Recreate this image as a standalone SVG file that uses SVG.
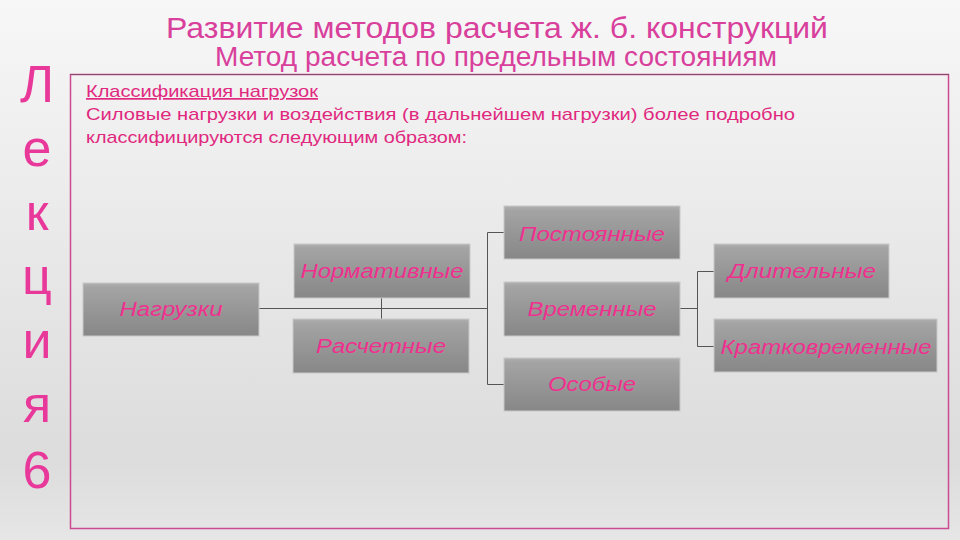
<svg xmlns="http://www.w3.org/2000/svg" width="960" height="540" viewBox="0 0 960 540">
<defs>
<linearGradient id="bg" x1="0" y1="0" x2="0" y2="1">
<stop offset="0" stop-color="#f7f7f7"/>
<stop offset="0.85" stop-color="#dcdcdc"/>
<stop offset="1" stop-color="#e6e6e6"/>
</linearGradient>
<linearGradient id="box" x1="0" y1="0" x2="0" y2="1">
<stop offset="0" stop-color="#b0b0b0"/>
<stop offset="0.08" stop-color="#a4a4a4"/>
<stop offset="1" stop-color="#878787"/>
</linearGradient>
<style>
.node rect{fill:url(#box);stroke:#c8c8c8;stroke-width:1}
.node text{font-family:"Liberation Sans",Arial,sans-serif;font-style:italic;font-size:20px;fill:#f0308e;text-anchor:middle}
.conn path{fill:none;stroke:#555;stroke-width:1}
.side{font-family:"Liberation Sans",Arial,sans-serif;font-size:52px;fill:#e8389a;text-anchor:middle}
.body{font-family:"Liberation Sans",Arial,sans-serif;font-size:17px;fill:#e0287f}
</style>
</defs>
<rect width="960" height="540" fill="url(#bg)"/>
<text x="497" y="38" font-family="'Liberation Sans',Arial,sans-serif" font-size="30" fill="#d8409c" text-anchor="middle" textLength="662" lengthAdjust="spacingAndGlyphs">Развитие методов расчета ж. б. конструкций</text>
<text x="496" y="66" font-family="'Liberation Sans',Arial,sans-serif" font-size="27" fill="#d8409c" text-anchor="middle" textLength="562" lengthAdjust="spacingAndGlyphs">Метод расчета по предельным состояниям</text>
<g id="side-letters">
<text class="side" x="37" y="102">Л</text>
<text class="side" x="37" y="166">е</text>
<text class="side" x="37" y="230">к</text>
<text class="side" x="37" y="294">ц</text>
<text class="side" x="37" y="358">и</text>
<text class="side" x="37" y="422">я</text>
<text class="side" x="37" y="488">6</text>
</g>
<rect x="70.5" y="74.5" width="878" height="454" fill="none" stroke="#cc4a92" stroke-width="1.5"/>
<line x1="70" y1="74.5" x2="949" y2="74.5" stroke="#8a4a6a" stroke-width="1"/>
<text class="body" x="86" y="97" textLength="232" lengthAdjust="spacingAndGlyphs" text-decoration="underline">Классификация нагрузок</text>
<text class="body" x="86" y="120" textLength="709" lengthAdjust="spacingAndGlyphs">Силовые нагрузки и воздействия (в дальнейшем нагрузки)  более подробно</text>
<text class="body" x="86" y="143" textLength="381" lengthAdjust="spacingAndGlyphs">классифицируются следующим образом:</text>
<g class="conn" id="connectors">
<path d="M259 308.5H487"/>
<path d="M381.5 298V319"/>
<path d="M504 232.5H487.5V384.5H504"/>
<path d="M680 308.5H697.5"/>
<path d="M714 271.5H697.5V346.5H714"/>
</g>
<g class="node" id="n-nagruzki"><rect x="83" y="283" width="176" height="53"/><text x="171" y="316" textLength="103" lengthAdjust="spacingAndGlyphs">Нагрузки</text></g>
<g class="node" id="n-normativnye"><rect x="294" y="244" width="176" height="54"/><text x="382" y="278" textLength="163" lengthAdjust="spacingAndGlyphs">Нормативные</text></g>
<g class="node" id="n-raschetnye"><rect x="293" y="319" width="176" height="54"/><text x="381" y="353" textLength="130" lengthAdjust="spacingAndGlyphs">Расчетные</text></g>
<g class="node" id="n-postoyannye"><rect x="504" y="206" width="176" height="53"/><text x="592" y="241" textLength="146" lengthAdjust="spacingAndGlyphs">Постоянные</text></g>
<g class="node" id="n-vremennye"><rect x="504" y="282" width="176" height="54"/><text x="592" y="316" textLength="129" lengthAdjust="spacingAndGlyphs">Временные</text></g>
<g class="node" id="n-osobye"><rect x="504" y="358" width="176" height="53"/><text x="592" y="391" textLength="88" lengthAdjust="spacingAndGlyphs">Особые</text></g>
<g class="node" id="n-dlitelnye"><rect x="714" y="244" width="175" height="54"/><text x="802" y="278" textLength="148" lengthAdjust="spacingAndGlyphs">Длительные</text></g>
<g class="node" id="n-kratkovremennye"><rect x="714" y="319" width="223" height="53"/><text x="826" y="354" textLength="211" lengthAdjust="spacingAndGlyphs">Кратковременные</text></g>
</svg>
